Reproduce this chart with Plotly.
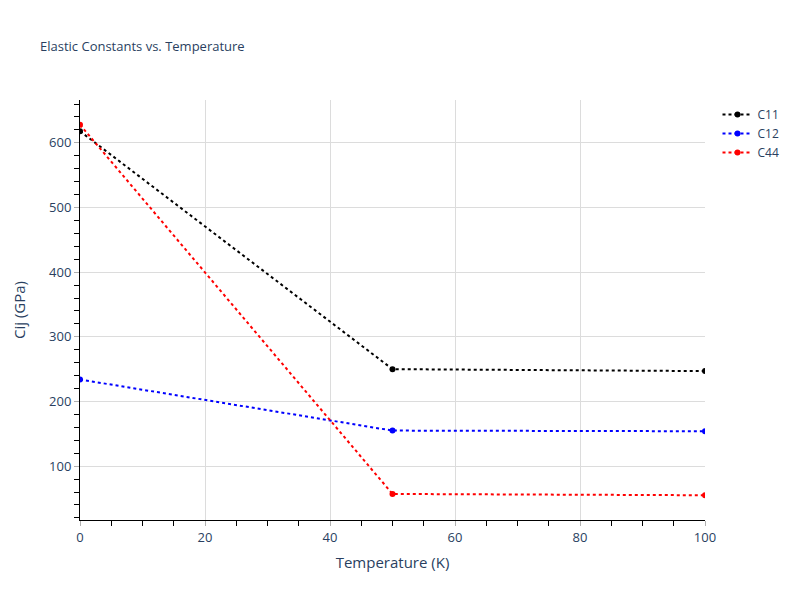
import plotly.graph_objects as go

temperature = [0, 50, 100]
c11 = [618, 250, 247]
c12 = [234, 155, 154]
c44 = [628, 57, 55]

series = [("C11", c11, "black"), ("C12", c12, "blue"), ("C44", c44, "red")]

fig = go.Figure()
for name, vals, col in series:
    fig.add_trace(go.Scatter(
        x=temperature, y=vals, name=name, mode="lines+markers",
        line=dict(color=col, dash="dot", width=2),
        marker=dict(color=col, size=6),
    ))

axis_common = dict(
    showline=True, linecolor="black", linewidth=1,
    ticks="outside", tickcolor="#b0b0b0", ticklen=5,
    tickfont=dict(size=13),
    showgrid=True, gridcolor="#dcdcdc", zeroline=False,
    minor=dict(ticks="outside", ticklen=5, tickcolor="black", showgrid=False),
)

fig.update_layout(
    template="plotly_white",
    width=800, height=600,
    title=dict(text="Elastic Constants vs. Temperature", x=0.05, y=0.93,
               font=dict(size=13)),
    xaxis=dict(title=dict(text="Temperature (K)", font=dict(size=15), standoff=12),
               range=[0, 100], dtick=20, **axis_common),
    yaxis=dict(title=dict(text="Cij (GPa)", font=dict(size=15), standoff=19),
               dtick=100, **axis_common),
    legend=dict(font=dict(size=12)),
    margin=dict(l=80, r=95, t=100, b=80, autoexpand=False),
)
fig.update_xaxes(minor=dict(dtick=5), automargin=False)
fig.update_yaxes(minor=dict(dtick=20), automargin=False)

fig.write_html("out.html", config={"displayModeBar": False},
               post_script="document.body.style.margin='0';")
